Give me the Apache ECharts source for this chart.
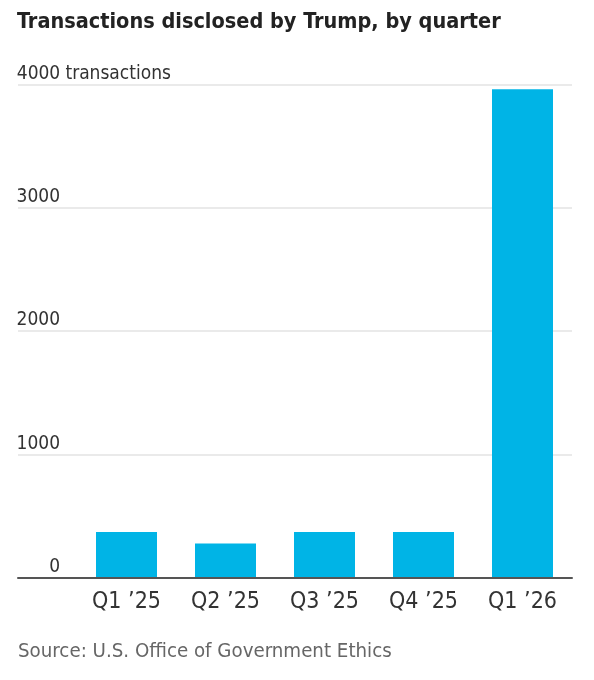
<!DOCTYPE html>
<html>
<head>
<meta charset="utf-8">
<script src="https://cdn.jsdelivr.net/npm/echarts@6/dist/echarts.min.js"></script>
<style>
  html, body { margin: 0; padding: 0; background: #fff; }
  #chart { width: 594px; height: 680px; }
</style>
</head>
<body>
<div id="chart"></div>
<script>
var quarters = ['Q1 \u201925', 'Q2 \u201925', 'Q3 \u201925', 'Q4 \u201925', 'Q1 \u201926'];
var transactions = [370, 278, 370, 370, 3960];
var yTicks = [0, 1000, 2000, 3000, 4000];

(function() {
  var font = '"DejaVu Sans Condensed", sans-serif';
  var ink = '#222';
  var muted = '#666';
  var rule = '#e3e3e3';
  var bar = '#00b4e6';

  var top = 84.3, bottom = 102.3;
  var chart = echarts.init(document.getElementById('chart'), null, { renderer: 'canvas' });
  chart.setOption({
    animation: false,
    title: [
      {
        text: 'Transactions disclosed by Trump, by quarter',
        left: 17, top: 11, padding: 0,
        textStyle: { color: ink, fontSize: 21.5, fontWeight: 'bold', fontFamily: font }
      },
      {
        text: 'Source: U.S. Office of Government Ethics',
        left: 18, top: 642, padding: 0,
        textStyle: { color: muted, fontSize: 20.3, fontWeight: 'normal', fontFamily: font }
      }
    ],
    grid: [
      // bars
      { left: 77, right: 22, top: top, bottom: bottom },
      // full-width gridlines and baseline
      { left: 18, right: 22, top: top, bottom: bottom }
    ],
    xAxis: [
      {
        type: 'category', gridIndex: 0, data: quarters,
        axisLine: { show: false },
        axisTick: { show: false },
        axisLabel: { color: '#333', fontSize: 23, fontFamily: font, margin: 13 }
      },
      {
        type: 'value', gridIndex: 1, min: 0, max: 1, z: 5,
        axisLine: { show: true, lineStyle: { color: '#555', width: 2 } },
        axisTick: { show: false },
        axisLabel: { show: false },
        splitLine: { show: false }
      }
    ],
    yAxis: [
      {
        type: 'value', gridIndex: 0, min: yTicks[0], max: yTicks[yTicks.length - 1], interval: 1000,
        show: false
      },
      {
        type: 'value', gridIndex: 1, min: yTicks[0], max: yTicks[yTicks.length - 1], interval: 1000,
        axisLine: { show: false },
        axisTick: { show: false },
        splitLine: {
          lineStyle: { color: rule, width: 1.5 },
          showMinLine: false
        },
        axisLabel: {
          inside: true,
          align: 'left',
          verticalAlign: 'bottom',
          margin: -1,
          padding: [0, 0, 1, 0],
          lineHeight: 19,
          color: '#333',
          fontSize: 19,
          fontFamily: font,
          formatter: function(v) {
            return v === 4000 ? '{n|4000}{u| transactions}' : '{n|' + v + '}';
          },
          rich: {
            n: { width: 43, align: 'right', color: '#333', fontSize: 19, lineHeight: 19, fontFamily: font },
            u: { color: '#333', fontSize: 19, lineHeight: 19, fontFamily: font }
          }
        }
      }
    ],
    series: [
      {
        type: 'bar',
        xAxisIndex: 0, yAxisIndex: 0,
        data: transactions,
        barWidth: 61,
        itemStyle: { color: bar }
      }
    ]
  });

  window.addEventListener('resize', function() { chart.resize(); });
})();
</script>
</body>
</html>
